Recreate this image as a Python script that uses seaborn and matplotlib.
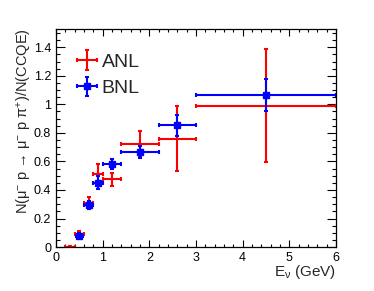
import matplotlib
matplotlib.use("Agg")
import matplotlib.pyplot as plt
import seaborn as sns
from matplotlib.ticker import MultipleLocator, FuncFormatter

# ANL data
anl_x = [0.3, 0.5, 0.7, 0.9, 1.2, 1.8, 2.6, 4.5]
anl_xerr = [0.1, 0.1, 0.1, 0.1, 0.2, 0.4, 0.4, 1.5]
anl_y = [0.0, 0.09, 0.31, 0.515, 0.475, 0.72, 0.76, 0.99]
anl_yerr = [0.005, 0.02, 0.04, 0.065, 0.045, 0.09, 0.225, 0.395]

# BNL data
bnl_x = [0.5, 0.7, 0.9, 1.2, 1.8, 2.6, 4.5]
bnl_xerr = [0.07, 0.1, 0.1, 0.2, 0.4, 0.4, 1.5]
bnl_y = [0.08, 0.295, 0.45, 0.58, 0.665, 0.853, 1.066]
bnl_yerr = [0.02, 0.03, 0.045, 0.035, 0.04, 0.075, 0.11]

sns.set_theme(style="ticks")
plt.rcParams['font.family'] = ['Liberation Sans', 'DejaVu Sans']
plt.rcParams['mathtext.fontset'] = 'custom'
plt.rcParams['mathtext.rm'] = 'Liberation Sans'
plt.rcParams['mathtext.it'] = 'Liberation Sans:italic'

fig = plt.figure(figsize=(3.74, 2.91), dpi=100)
ax = fig.add_axes([0.15, 0.151, 0.748, 0.748])

ax.errorbar(anl_x, anl_y, xerr=anl_xerr, yerr=anl_yerr, fmt='none',
            ecolor='#ff0000', elinewidth=1.5, capsize=1.5, capthick=1.5,
            label='ANL')
ax.errorbar(bnl_x, bnl_y, xerr=bnl_xerr, yerr=bnl_yerr, fmt='s',
            color='#0000ff', ecolor='#0000ff', markersize=4,
            elinewidth=1.5, capsize=1.5, capthick=1.5, label='BNL')

ax.set_xlim(0, 6)
ax.set_ylim(0, 1.525)
ax.xaxis.set_major_locator(MultipleLocator(1))
ax.xaxis.set_minor_locator(MultipleLocator(0.2))
ax.yaxis.set_major_locator(MultipleLocator(0.2))
ax.yaxis.set_minor_locator(MultipleLocator(0.05))
ax.yaxis.set_major_formatter(FuncFormatter(lambda v, p: f"{v:g}"))

ax.tick_params(which='both', direction='in', top=True, right=True,
               labelsize=9, colors='black', width=0.8)
ax.tick_params(axis='x', which='major', length=5)
ax.tick_params(axis='x', which='minor', length=2.5)
ax.tick_params(axis='y', which='major', length=6.5)
ax.tick_params(axis='y', which='minor', length=3)
for s in ax.spines.values():
    s.set_linewidth(0.9)
    s.set_color('black')

fig.text(24 / 374, 1 - 28 / 291, "N(μ$^{-}$ p → μ$^{-}$ p π$^{+}$)/N(CCQE)",
         rotation=90, ha='center', va='top', fontsize=10.5)
fig.text(336 / 374, 1 - 272 / 291, r"E$_{\mathrm{\nu}}$ (GeV)",
         ha='right', va='center', fontsize=11)

ax.legend(loc='upper left', bbox_to_anchor=(0.01, 0.98), frameon=False,
          fontsize=14, handlelength=0.9, handletextpad=0.3,
          labelspacing=0.45, borderaxespad=0.6)

fig.savefig("out.png", dpi=100)
